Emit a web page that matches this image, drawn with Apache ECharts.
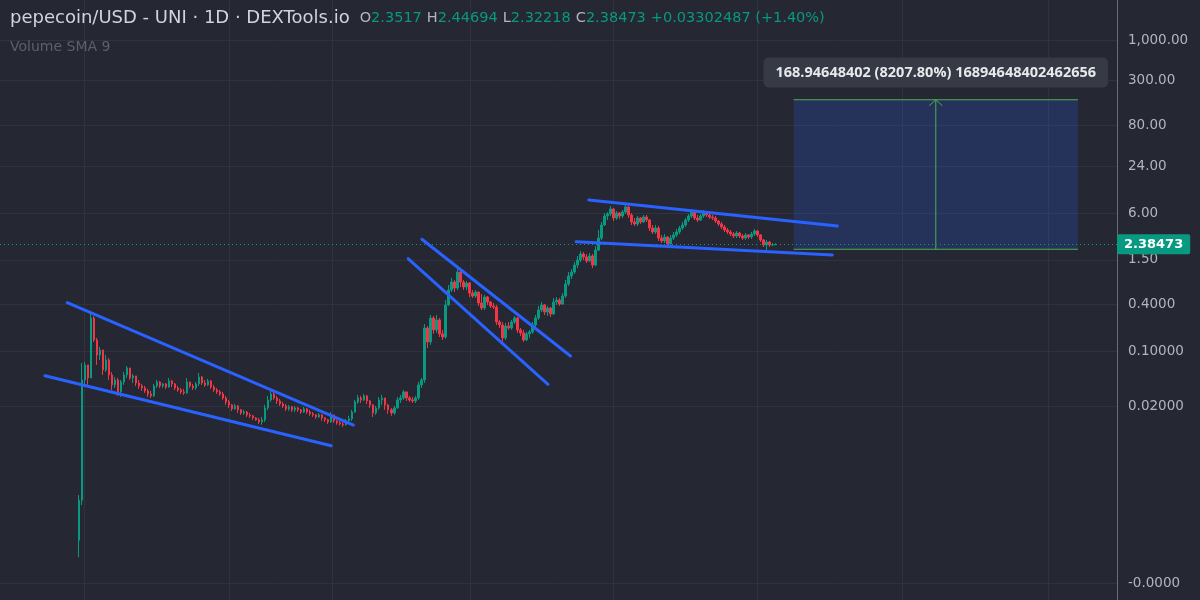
<!DOCTYPE html>
<html><head><meta charset="utf-8">
<script src="https://cdn.jsdelivr.net/npm/echarts@6/dist/echarts.min.js"></script>
<style>html,body{margin:0;padding:0;background:#252732;}#c{width:1200px;height:600px;}</style>
</head><body><div id="c"></div>
<script>
// ---- data (daily candles, index = day number) ----
const firstOpen = 0.00038;
const closes = [
0.00124,0.0433,0.0674,0.0459,0.270,0.141,0.0906,0.105,0.0582,0.0781,
0.0502,0.0374,0.0433,0.0304,0.0408,0.0502,0.0617,0.0459,0.0487,0.0396,
0.0363,0.0342,0.0313,0.0286,0.0270,0.0363,0.0408,0.0363,0.0385,0.0352,
0.0420,0.0385,0.0342,0.0322,0.0304,0.0295,0.0408,0.0363,0.0342,0.0385,
0.0473,0.0396,0.0374,0.0420,0.0352,0.0322,0.0304,0.0286,0.0254,0.0226,
0.0207,0.0184,0.0201,0.0179,0.0163,0.0168,0.0154,0.0150,0.0141,0.0133,
0.0125,0.0133,0.0189,0.0240,0.0286,0.0254,0.0233,0.0213,0.0201,0.0184,
0.0195,0.0179,0.0189,0.0179,0.0168,0.0184,0.0168,0.0159,0.0154,0.0145,
0.0154,0.0141,0.0133,0.0125,0.0154,0.0129,0.0122,0.0118,0.0115,0.0129,
0.0137,0.0168,0.0226,0.0254,0.0240,0.0270,0.0233,0.0207,0.0163,0.0189,
0.0240,0.0254,0.0207,0.0179,0.0163,0.0189,0.0240,0.0254,0.0304,0.0254,
0.0240,0.0233,0.0254,0.0374,0.0433,0.201,0.133,0.270,0.190,0.255,
0.169,0.154,0.397,0.618,0.782,0.655,1.05,0.782,0.675,0.760,
0.565,0.517,0.582,0.421,0.363,0.502,0.433,0.385,0.374,0.240,
0.220,0.150,0.213,0.201,0.240,0.270,0.190,0.174,0.141,0.169,
0.179,0.220,0.270,0.342,0.397,0.322,0.363,0.304,0.433,0.460,
0.408,0.517,0.737,0.934,1.05,1.29,1.50,1.79,1.64,1.46,
1.69,1.29,2.01,2.87,4.22,5.50,5.84,6.77,5.19,6.01,
5.50,6.19,7.18,5.67,4.61,4.35,5.19,4.61,5.34,4.89,
3.86,3.43,3.86,2.87,2.63,2.96,2.41,2.87,3.14,3.43,
3.86,4.22,4.89,5.50,6.19,5.19,4.89,5.50,6.19,5.67,
5.34,5.19,4.75,4.35,3.98,3.64,3.43,3.23,3.05,3.33,
3.05,2.87,3.14,2.96,3.23,3.53,3.14,2.71,2.34,2.55,
2.34,2.3517,2.38473
];
const highs = [
0.00144,0.0715,0.0736,0.0674,0.304,0.286,0.150,0.115,0.099,0.0906,
0.0829,0.0548,0.0473,0.0459,0.0433,0.0548,0.0654,0.0617,0.0517,0.0473,
0.0433,0.0385,0.0363,0.0332,0.0313,0.0385,0.0433,0.0420,0.0396,0.0396,
0.0459,0.0433,0.0396,0.0363,0.0342,0.0332,0.0459,0.0408,0.0385,0.0408,
0.0532,0.0487,0.0433,0.0446,0.0433,0.0374,0.0342,0.0322,0.0304,0.0270,
0.0240,0.0213,0.0213,0.0207,0.0184,0.0179,0.0173,0.0163,0.0154,0.0145,
0.0141,0.0145,0.0207,0.0270,0.0322,0.0304,0.0270,0.0247,0.0226,0.0213,
0.0207,0.0201,0.0201,0.0195,0.0184,0.0195,0.0189,0.0179,0.0168,0.0159,
0.0163,0.0159,0.0145,0.0137,0.0168,0.0154,0.0133,0.0129,0.0125,0.0137,
0.0150,0.0179,0.0240,0.0278,0.0270,0.0286,0.0278,0.0240,0.0213,0.0201,
0.0262,0.0278,0.0254,0.0213,0.0189,0.0201,0.0262,0.0278,0.0322,0.0304,
0.0270,0.0262,0.0270,0.0408,0.0459,0.226,0.213,0.295,0.286,0.295,
0.270,0.190,0.460,0.716,0.880,0.830,1.22,1.11,0.830,0.806,
0.782,0.618,0.618,0.582,0.549,0.533,0.517,0.446,0.421,0.397,
0.255,0.240,0.233,0.240,0.255,0.286,0.278,0.201,0.190,0.179,
0.190,0.240,0.295,0.385,0.433,0.408,0.385,0.374,0.488,0.502,
0.488,0.565,0.830,1.05,1.15,1.41,1.69,1.95,1.90,1.79,
1.84,1.79,2.27,3.64,4.61,6.01,6.19,7.40,6.97,6.38,
6.19,6.57,7.85,7.40,6.01,5.19,5.50,5.34,5.67,5.67,
5.04,4.22,4.22,4.10,3.14,3.23,3.05,3.14,3.43,3.75,
4.10,4.61,5.19,5.84,6.77,6.38,5.67,5.84,6.57,6.19,
6.01,5.67,5.50,4.89,4.61,4.22,3.86,3.64,3.43,3.53,
3.43,3.23,3.33,3.23,3.43,3.75,3.64,3.23,2.79,2.71,
2.63,2.48,2.44694
];
const lows = [
0.00023,0.00107,0.0374,0.0374,0.0548,0.133,0.0674,0.0781,0.0502,0.0548,
0.0433,0.0322,0.0342,0.0270,0.0262,0.0374,0.0459,0.0433,0.0396,0.0363,
0.0332,0.0313,0.0295,0.0262,0.0254,0.0262,0.0342,0.0342,0.0342,0.0332,
0.0342,0.0352,0.0322,0.0304,0.0286,0.0278,0.0286,0.0342,0.0322,0.0322,
0.0363,0.0374,0.0352,0.0363,0.0332,0.0304,0.0286,0.0270,0.0240,0.0207,
0.0189,0.0173,0.0179,0.0163,0.0154,0.0154,0.0145,0.0141,0.0133,0.0129,
0.0118,0.0115,0.0125,0.0179,0.0226,0.0240,0.0213,0.0201,0.0189,0.0173,
0.0173,0.0168,0.0168,0.0168,0.0159,0.0163,0.0159,0.0150,0.0145,0.0137,
0.0141,0.0129,0.0125,0.0118,0.0122,0.0122,0.0115,0.0112,0.0108,0.0112,
0.0122,0.0129,0.0163,0.0213,0.0219,0.0233,0.0213,0.0189,0.0145,0.0154,
0.0179,0.0207,0.0179,0.0159,0.0150,0.0154,0.0184,0.0219,0.0240,0.0233,
0.0226,0.0219,0.0219,0.0240,0.0342,0.0396,0.111,0.122,0.169,0.174,
0.154,0.141,0.146,0.385,0.582,0.582,0.618,0.675,0.618,0.618,
0.502,0.488,0.488,0.385,0.342,0.342,0.397,0.363,0.352,0.220,
0.201,0.133,0.141,0.190,0.190,0.226,0.174,0.159,0.133,0.137,
0.150,0.169,0.207,0.255,0.322,0.295,0.286,0.278,0.295,0.397,
0.385,0.397,0.488,0.695,0.855,0.99,1.18,1.41,1.50,1.37,
1.41,1.18,1.25,1.95,2.71,4.10,4.89,5.50,4.75,4.89,
5.04,5.19,5.84,5.19,4.22,4.10,4.10,4.35,4.48,4.61,
3.53,3.23,3.23,2.63,2.48,2.48,2.14,2.27,2.71,2.96,
3.23,3.64,3.98,4.61,5.19,4.89,4.61,4.75,5.19,5.34,
5.04,4.89,4.48,4.10,3.75,3.43,3.23,3.05,2.87,2.87,
2.87,2.71,2.71,2.79,2.79,3.05,2.96,2.55,2.20,2.01,
2.20,2.27,2.32218
];
// price-axis ticks
const tickValues = [0.000107, 0.02, 0.1, 0.4, 1.5, 6, 24, 80, 300, 1000, 3500];
const tickLabels = ['-0.0000','0.02000','0.10000','0.4000','1.50','6.00','24.00','80.00','300.00','1,000.00','3,500.00'];
// time grid lines (day index)
const timeGrid = [1.7, 50, 84.3, 130.3, 178, 226, 274.3, 322.7];
// drawn trend lines: [[day, price],[day, price]]
const trendLines = [
  [[-3.9, 0.4246], [91.4, 0.01142]],
  [[-11.33, 0.0491], [84, 0.00619]],
  [[114.2, 2.765], [163.7, 0.0878]],
  [[109.6, 1.558], [156.2, 0.0380]],
  [[169.8, 8.83], [252.6, 4.096]],
  [[165.6, 2.575], [250.9, 1.738]]
];
// price-range measurement
const measureStart = 238, measureEnd = 332.7;
const measureBase = 2.0584, measureChange = 168.94648402;
const measureTop = measureBase + measureChange;
const measureText = '168.94648402 (8207.80%) 16894648402462656';
const lastPrice = 2.38473;
const titleText = 'pepecoin/USD - UNI · 1D · DEXTools.io';
const ohlcKeys = ['O','H','L','C'];
const ohlcVals = ['2.3517','2.44694','2.32218','2.38473'];
const changeText = '+0.03302487 (+1.40%)';
const indicatorText = 'Volume SMA 9';

const UP = '#089981', DOWN = '#f23645', BLUE = '#2962ff', GREEN = '#4caf50';
const FONT = '"DejaVu Sans", sans-serif';
const FONT2 = '"Open Sans", "Noto Sans", sans-serif';

const candles = closes.map((c, i) => [i, i === 0 ? firstOpen : closes[i - 1], c, lows[i], highs[i]]);
const xMin = -26.3, xMax = 345.7;
const yMin = 6.477e-5, yMax = 3262;
const midX = (measureStart + measureEnd) / 2;
const arrowDepth = measureTop / 1.194;

let rich = '{t|' + titleText + '}  ';
ohlcKeys.forEach((k, i) => { rich += '{k|' + k + '}{v|' + ohlcVals[i] + '} '; });
rich += '{v|' + changeText + '}';

const series = [
  {
    type: 'candlestick', data: candles, encode: {x: 0, y: [1, 2, 3, 4]},
    barWidth: 2,
    itemStyle: {color: UP, color0: DOWN, borderColor: UP, borderColor0: DOWN, borderWidth: 1},
    markLine: {
      silent: true, symbol: 'none', animation: false,
      lineStyle: {color: UP, type: [1, 3], width: 1},
      label: {show: true, position: 'end', distance: 0, formatter: String(lastPrice),
        backgroundColor: UP, color: '#ffffff', fontFamily: FONT, fontWeight: 'bold', fontSize: 13,
        padding: [4, 7, 3, 7], borderRadius: 2},
      data: [{yAxis: lastPrice}]
    }
  },
  {
    type: 'line', data: [[measureStart, measureBase], [measureEnd, measureBase]],
    showSymbol: false, lineStyle: {color: GREEN, width: 1}, z: 3,
    markArea: {silent: true, itemStyle: {color: 'rgba(41,98,255,0.2)'},
      data: [[{coord: [measureStart, measureTop]}, {coord: [measureEnd, measureBase]}]]}
  },
  {type: 'line', data: [[measureStart, measureTop], [measureEnd, measureTop]], showSymbol: false, lineStyle: {color: GREEN, width: 1}, z: 3},
  {type: 'line', data: [[midX, measureBase], [midX, measureTop]], showSymbol: false, lineStyle: {color: GREEN, width: 1}, z: 3,
    markPoint: {silent: true, symbol: 'rect', symbolSize: 0, animation: false,
      label: {show: true, position: 'inside', formatter: measureText, color: '#e8e9ec', fontFamily: FONT2,
        fontWeight: 'bold', fontSize: 14.5, backgroundColor: '#363a45', borderRadius: 5, padding: [8, 12, 7, 12]},
      data: [{coord: [midX, 383]}]}},
  {type: 'line', data: [[midX - 2.17, arrowDepth], [midX, measureTop], [midX + 2.17, arrowDepth]], showSymbol: false, lineStyle: {color: GREEN, width: 1}, z: 3}
];
trendLines.forEach(seg => series.push({
  type: 'line', data: seg, showSymbol: false, z: 5,
  lineStyle: {color: BLUE, width: 3, cap: 'round'}
}));

const chart = echarts.init(document.getElementById('c'), null, {renderer: 'canvas'});
chart.setOption({
  backgroundColor: '#252732',
  animation: false,
  title: [
    {left: 10, top: 9, padding: 0, text: rich, textStyle: {rich: {
      t: {fontFamily: FONT, fontSize: 18, fontWeight: 'normal', color: '#d1d4dc'},
      k: {fontFamily: FONT, fontSize: 14.5, fontWeight: 'normal', color: '#b2b5be'},
      v: {fontFamily: FONT, fontSize: 14.5, fontWeight: 'normal', color: UP}
    }}},
    {left: 10, top: 40, padding: 0, text: indicatorText, textStyle: {fontFamily: FONT, fontSize: 14, fontWeight: 'normal', color: '#5d606b'}}
  ],
  grid: {left: 0, right: 83, top: 0, bottom: 0, containLabel: false},
  xAxis: {
    type: 'value', min: xMin, max: xMax,
    axisLine: {show: false, onZero: false}, axisTick: {show: false, customValues: timeGrid},
    axisLabel: {show: false, customValues: timeGrid},
    splitLine: {show: true, lineStyle: {color: '#30333e', width: 1}}
  },
  yAxis: {
    type: 'log', logBase: 10, min: yMin, max: yMax, position: 'right',
    axisLine: {show: true, onZero: false, lineStyle: {color: '#6a6d78', width: 1}},
    axisTick: {show: false, customValues: tickValues},
    axisLabel: {customValues: tickValues, margin: 11, color: '#b2b5be', fontFamily: FONT, fontSize: 13.5,
      formatter: v => {
        const k = tickValues.findIndex(t => Math.abs(Math.log10(t) - Math.log10(v)) < 1e-4);
        return k >= 0 ? tickLabels[k] : '';
      }},
    splitLine: {show: true, lineStyle: {color: '#30333e', width: 1}}
  },
  series: series
});
</script>
</body></html>
